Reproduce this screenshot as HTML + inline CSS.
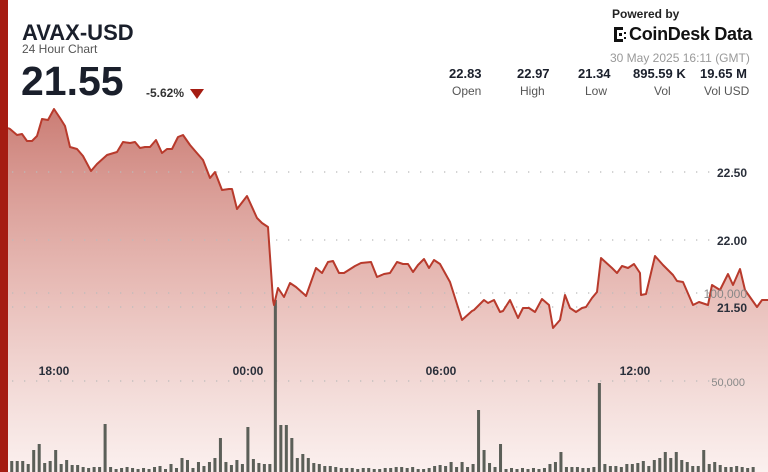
<!DOCTYPE html>
<html><head><meta charset="utf-8"><style>
body{margin:0;width:768px;height:472px;overflow:hidden;background:#fff;font-family:"Liberation Sans",sans-serif;position:relative}
.t{position:absolute;color:#1a1f2b}
</style></head><body>
<svg width="768" height="472" style="position:absolute;left:0;top:0" xmlns="http://www.w3.org/2000/svg">
<defs><linearGradient id="g" x1="0" x2="0" gradientUnits="userSpaceOnUse" y1="110" y2="472">
<stop offset="0" stop-color="#c56f66" stop-opacity="0.9"/><stop offset="0.5" stop-color="#dc9a92" stop-opacity="0.65"/><stop offset="1" stop-color="#f7e4e1" stop-opacity="0.55"/></linearGradient></defs>
<path id="area" fill="url(#g)" d="M8 128L8 472L768 472Z"/>
<g stroke="#bbb" stroke-width="1.3" stroke-dasharray="1.3 10.7">
<line x1="12" y1="172" x2="740" y2="172"/><line x1="12" y1="240" x2="718" y2="240"/><line x1="12" y1="293" x2="718" y2="293"/><line x1="12" y1="307" x2="718" y2="307"/><line x1="12" y1="381" x2="712" y2="381"/></g>
<path transform="matrix(1.373 0 0 1 -47.3 0)" stroke="#5b5f58" stroke-width="2.2" fill="none" d="M11 472v-10m4 10v-7m4 7v-10m4 10v-9m4 9v-10m4 10v-8m4 8v-45m4 45v-13m4 13v-11m4 11v-11m4 11v-11m4 11v-8m4 8v-22m4 22v-28m4 28v-9m4 9v-11m4 11v-22m4 22v-8m4 8v-12m4 12v-7m4 7v-7m4 7v-5m4 5v-4m4 4v-5m4 5v-5m4 5v-48m4 48v-5m4 5v-3m4 3v-4m4 4v-5m4 5v-4m4 4v-3m4 3v-4m4 4v-3m4 3v-5m4 5v-6m4 6v-3m4 3v-8m4 8v-4m4 4v-14m4 14v-12m4 12v-4m4 4v-10m4 10v-6m4 6v-10m4 10v-14m4 14v-34m4 34v-10m4 10v-7m4 7v-12m4 12v-8m4 8v-45m4 45v-13m4 13v-9m4 9v-8m4 8v-8m4 8v-172m4 172v-47m4 47v-47m4 47v-34m4 34v-14m4 14v-18m4 18v-14m4 14v-9m4 9v-8m4 8v-6m4 6v-6m4 6v-5m4 5v-4m4 4v-4m4 4v-4m4 4v-3m4 3v-4m4 4v-4m4 4v-3m4 3v-3m4 3v-4m4 4v-4m4 4v-5m4 5v-5m4 5v-4m4 4v-5m4 5v-3m4 3v-3m4 3v-4m4 4v-6m4 6v-7m4 7v-6m4 6v-10m4 10v-5m4 5v-10m4 10v-5m4 5v-8m4 8v-62m4 62v-22m4 22v-9m4 9v-5m4 5v-28m4 28v-3m4 3v-4m4 4v-3m4 3v-4m4 4v-3m4 3v-4m4 4v-3m4 3v-4m4 4v-8m4 8v-10m4 10v-20m4 20v-5m4 5v-5m4 5v-5m4 5v-4m4 4v-4m4 4v-5m4 5v-89m4 89v-8m4 8v-6m4 6v-6m4 6v-5m4 5v-8m4 8v-8m4 8v-9m4 9v-11m4 11v-6m4 6v-12m4 12v-14m4 14v-20m4 20v-14m4 14v-20m4 20v-12m4 12v-10m4 10v-6m4 6v-6m4 6v-22m4 22v-8m4 8v-10m4 10v-7m4 7v-5m4 5v-5m4 5v-6m4 6v-5m4 5v-4m4 4v-5"/>
<path fill="none" stroke="#b83a2c" stroke-width="2" stroke-linejoin="round" id="line"/>
<rect x="0" y="0" width="8" height="472" fill="#a51c12"/>
<text x="747" y="177" font-size="12" font-weight="bold" fill="#2a2f3a" text-anchor="end">22.50</text>
<text x="747" y="245" font-size="12" font-weight="bold" fill="#2a2f3a" text-anchor="end">22.00</text>
<text x="747" y="298" font-size="12" fill="#888" text-anchor="end">100,000</text>
<text x="747" y="312" font-size="12" font-weight="bold" fill="#2a2f3a" text-anchor="end">21.50</text>
<text x="745" y="386" font-size="11" fill="#888" text-anchor="end">50,000</text>
<g font-size="12" font-weight="bold" fill="#2a2f3a" text-anchor="middle">
<text x="54" y="375">18:00</text><text x="248" y="375">00:00</text><text x="441" y="375">06:00</text><text x="635" y="375">12:00</text></g>
<g fill="#111"><rect x="614" y="27" width="3" height="15"/><rect x="617" y="27" width="6" height="3"/><rect x="617" y="39" width="6" height="3"/><rect x="619" y="33" width="3" height="3"/><rect x="624" y="32" width="2" height="2"/><rect x="624" y="37" width="2" height="2"/></g>
</svg>
<div class="t" style="left:22px;top:20px;font-size:22px;font-weight:bold">AVAX-USD</div>
<div class="t" style="left:22px;top:42px;font-size:12px;color:#555">24 Hour Chart</div>
<div class="t" style="left:21px;top:58px;font-size:41px;font-weight:bold">21.55</div>
<div class="t" style="left:146px;top:86px;font-size:12px;font-weight:bold;color:#333">-5.62%</div>
<div style="position:absolute;left:190px;top:89px;width:0;height:0;border-left:7px solid transparent;border-right:7px solid transparent;border-top:10px solid #a51c12"></div>
<div class="t" style="left:612px;top:7px;font-size:12px;font-weight:bold;color:#222">Powered by</div>
<div class="t" style="left:629px;top:24px;font-size:18px;font-weight:bold;color:#111;letter-spacing:-0.3px">CoinDesk Data</div>
<div class="t" style="left:610px;top:51px;font-size:12px;color:#999">30 May 2025 16:11 (GMT)</div>
<div class="t" style="left:440px;top:66px;width:330px;font-size:13px">
<div style="position:absolute;left:9px;font-weight:bold">22.83</div><div style="position:absolute;left:12px;top:18px;font-size:12px;color:#555">Open</div>
<div style="position:absolute;left:77px;font-weight:bold">22.97</div><div style="position:absolute;left:80px;top:18px;font-size:12px;color:#555">High</div>
<div style="position:absolute;left:138px;font-weight:bold">21.34</div><div style="position:absolute;left:145px;top:18px;font-size:12px;color:#555">Low</div>
<div style="position:absolute;left:193px;font-weight:bold">895.59 K</div><div style="position:absolute;left:214px;top:18px;font-size:12px;color:#555">Vol</div>
<div style="position:absolute;left:260px;font-weight:bold">19.65 M</div><div style="position:absolute;left:264px;top:18px;font-size:12px;color:#555">Vol USD</div>
</div>
<script>
var p=[[8,128],[10,129],[17,135],[22,134],[27,141],[32,141],[37,136],[42,119],[48,120],[54,109],[60,118],[65,126],[70,147],[77,149],[83,156],[91,171],[97,164],[107,155],[117,152],[123,142],[130,143],[135,142],[140,148],[145,147],[150,147],[156,140],[162,153],[167,149],[172,149],[178,137],[183,135],[190,145],[196,152],[203,160],[210,178],[215,172],[222,190],[229,189],[232,189],[237,209],[247,196],[257,218],[262,223],[268,227],[273,300],[274,305],[278,288],[284,297],[290,283],[296,287],[305,295],[306,296],[316,268],[322,273],[328,262],[333,261],[339,273],[344,273],[355,266],[361,263],[371,262],[377,277],[384,274],[390,273],[397,262],[403,264],[408,264],[413,272],[418,265],[424,259],[429,268],[434,260],[440,264],[450,282],[462,320],[472,311],[474,310],[484,300],[488,303],[494,300],[500,312],[503,311],[510,300],[518,318],[523,308],[529,308],[535,312],[542,299],[549,305],[553,328],[560,320],[565,295],[570,308],[576,312],[582,308],[586,307],[592,298],[597,292],[601,258],[612,268],[617,273],[622,266],[628,268],[634,264],[640,273],[641,295],[646,294],[655,256],[663,265],[673,275],[677,281],[683,282],[693,305],[699,302],[708,305],[712,285],[720,290],[728,274],[733,285],[740,269],[745,290],[757,307],[762,300],[768,300]];
var d=p.map(function(q,i){return(i?'L':'M')+q[0]+' '+q[1]}).join('');
document.getElementById('line').setAttribute('d',d);
document.getElementById('area').setAttribute('d',d+'L768 472L8 472Z');
</script>
</body></html>
